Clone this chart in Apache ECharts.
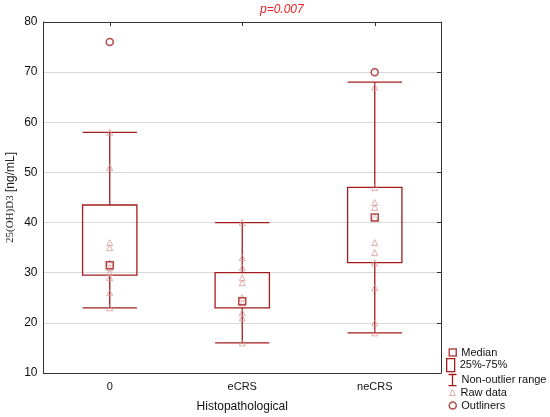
<!DOCTYPE html>
<html>
<head>
<meta charset="utf-8">
<script src="https://cdn.jsdelivr.net/npm/echarts@6/dist/echarts.min.js"></script>
<style>
  html, body { margin: 0; padding: 0; background: #fff; }
  #main { width: 550px; height: 417px; }
</style>
</head>
<body>
<div id="main"></div>
<script>
// groups and box statistics
var categories = ['0', 'eCRS', 'neCRS'];
var whiskerLow = [23, 16, 18];
var q1 = [29.5, 23, 32];
var medians = [31.5, 24.3, 41];
var q3 = [43.5, 30, 47];
var whiskerHigh = [58, 40, 68];
// outliers per group (group index, value)
var outlierGroup = [0, 2];
var outlierValue = [76, 70];
// raw observations
var raw0 = [23, 26, 29, 30, 31, 32, 35, 36, 51, 58];
var rawECRS = [16, 21, 22, 24, 25, 28, 29, 31, 33, 40];
var rawNeCRS = [18, 20, 27, 32, 34, 36, 41, 43, 44, 47, 67];
var yTicks = [10, 20, 30, 40, 50, 60, 70, 80];

var red = '#a31c1c';
var rawColor = '#d89a9a';
var font = 'Liberation Sans, Arial, sans-serif';

var chart = echarts.init(document.getElementById('main'));

var boxData = categories.map(function (c, i) { return [i, q1[i], q3[i]]; });
var whiskerData = categories.map(function (c, i) { return [i, whiskerLow[i], q1[i], q3[i], whiskerHigh[i]]; });
var medianData = categories.map(function (c, i) { return [i, medians[i]]; });
var rawData = [];
[raw0, rawECRS, rawNeCRS].forEach(function (arr, i) {
    arr.forEach(function (v) { rawData.push([i, v]); });
});
var outlierData = outlierGroup.map(function (g, i) { return [g, outlierValue[i]]; });

function legendItem(name, left, top, w, h, icon, style) {
    return {
        left: left, top: top, padding: 0,
        itemWidth: w, itemHeight: h, itemGap: 4,
        selectedMode: false,
        data: [{ name: name, icon: icon, itemStyle: style }],
        textStyle: { fontFamily: font, fontSize: 11, color: '#111' }
    };
}

var option = {
    backgroundColor: '#ffffff',
    animation: false,
    title: {
        text: 'p=0.007',
        left: 255, top: -1,
        textStyle: { color: '#ee2222', fontStyle: 'italic', fontWeight: 'normal', fontSize: 12, fontFamily: font }
    },
    grid: { left: 43.5, right: 109, top: 22, bottom: 44, outerBoundsMode: 'none', containLabel: false },
    legend: [
        legendItem('Median', 448.5, 347, 7, 7, 'rect', { color: '#fff', borderColor: red, borderWidth: 1.5 }),
        legendItem('25%-75%', 446, 358, 8, 13, 'rect', { color: '#fff', borderColor: red, borderWidth: 1.3 }),
        legendItem('Non-outlier range', 446, 372, 8, 13, 'path://M0,0L10,0M5,0L5,14M0,14L10,14', { color: 'none', borderColor: red, borderWidth: 1.3 }),
        legendItem('Raw data', 449, 387, 6, 6, 'triangle', { color: '#fff', borderColor: rawColor, borderWidth: 1 }),
        legendItem('Outliners', 448.5, 400, 7, 7, 'circle', { color: '#fff', borderColor: red, borderWidth: 1.5 })
    ],
    xAxis: [{
        type: 'category',
        data: categories,
        name: 'Histopathological',
        nameLocation: 'middle',
        nameGap: 28,
        nameTextStyle: { fontFamily: font, fontSize: 12, color: '#111' },
        axisLine: { lineStyle: { color: '#333', width: 1 } },
        axisTick: { show: false },
        axisLabel: { fontFamily: font, fontSize: 11, color: '#111', margin: 8 }
    }, {
        type: 'category',
        data: categories,
        position: 'top',
        axisLine: { lineStyle: { color: '#333', width: 1 } },
        axisTick: { show: true, inside: true, alignWithLabel: true, length: 4, lineStyle: { color: '#333' } },
        axisLabel: { show: false }
    }],
    yAxis: [{
        type: 'value',
        min: 10, max: 80, interval: 10,
        name: '{a|25(OH)D3} {b|[ng/mL]}',
        nameLocation: 'middle',
        nameGap: 27,
        nameMoveOverlap: false,
        nameRotate: 90,
        nameTextStyle: {
            rich: {
                a: { fontFamily: 'Liberation Serif, Times New Roman, serif', fontSize: 11, color: '#222' },
                b: { fontFamily: font, fontSize: 12, color: '#222' }
            }
        },
        axisLine: { show: true, lineStyle: { color: '#333', width: 1 } },
        axisTick: { show: false },
        axisLabel: {
            fontFamily: font, fontSize: 12, color: '#111', margin: 6,
            formatter: function (v) { return yTicks.indexOf(v) >= 0 ? String(v) : ''; }
        },
        splitLine: { show: true, lineStyle: { color: '#d9d9d9', width: 1 } }
    }, {
        type: 'value',
        min: 10, max: 80, interval: 10,
        position: 'right',
        axisLine: { show: true, lineStyle: { color: '#333', width: 1 } },
        axisTick: { show: true, inside: true, length: 4, lineStyle: { color: '#333' } },
        axisLabel: { show: false },
        splitLine: { show: false }
    }],
    series: [
        {
            name: 'Non-outlier range',
            type: 'custom',
            data: whiskerData,
            encode: { x: 0, y: [1, 2, 3, 4] },
            renderItem: function (params, api) {
                var i = api.value(0);
                var pLow = api.coord([i, api.value(1)]);
                var pQ1 = api.coord([i, api.value(2)]);
                var pQ3 = api.coord([i, api.value(3)]);
                var pHigh = api.coord([i, api.value(4)]);
                var cap = api.size([1, 0])[0] * 0.205;
                var st = { stroke: red, lineWidth: 1.3 };
                return {
                    type: 'group',
                    children: [
                        { type: 'line', shape: { x1: pLow[0], y1: pLow[1], x2: pQ1[0], y2: pQ1[1] }, style: st },
                        { type: 'line', shape: { x1: pQ3[0], y1: pQ3[1], x2: pHigh[0], y2: pHigh[1] }, style: st },
                        { type: 'line', shape: { x1: pLow[0] - cap, y1: pLow[1], x2: pLow[0] + cap, y2: pLow[1] }, style: st },
                        { type: 'line', shape: { x1: pHigh[0] - cap, y1: pHigh[1], x2: pHigh[0] + cap, y2: pHigh[1] }, style: st }
                    ]
                };
            },
            z: 2
        },
        {
            name: '25%-75%',
            type: 'custom',
            data: boxData,
            encode: { x: 0, y: [1, 2] },
            renderItem: function (params, api) {
                var i = api.value(0);
                var pLo = api.coord([i, api.value(1)]);
                var pHi = api.coord([i, api.value(2)]);
                var w = api.size([1, 0])[0] * 0.41;
                return {
                    type: 'rect',
                    shape: { x: pHi[0] - w / 2, y: pHi[1], width: w, height: pLo[1] - pHi[1] },
                    style: { fill: 'none', stroke: red, lineWidth: 1.3 }
                };
            },
            z: 2
        },
        {
            name: 'Raw data',
            type: 'scatter',
            data: rawData,
            symbol: 'triangle',
            symbolSize: 6,
            itemStyle: { color: 'rgba(255,255,255,0)', borderColor: rawColor, borderWidth: 1 },
            z: 3
        },
        {
            name: 'Median',
            type: 'scatter',
            data: medianData,
            symbol: 'rect',
            symbolSize: 7,
            itemStyle: { color: 'rgba(255,255,255,0.3)', borderColor: red, borderWidth: 1.5 },
            z: 4
        },
        {
            name: 'Outliners',
            type: 'scatter',
            data: outlierData,
            symbol: 'circle',
            symbolSize: 7,
            itemStyle: { color: '#fff', borderColor: red, borderWidth: 1.5 },
            z: 4
        }
    ]
};

chart.setOption(option);
</script>
</body>
</html>
